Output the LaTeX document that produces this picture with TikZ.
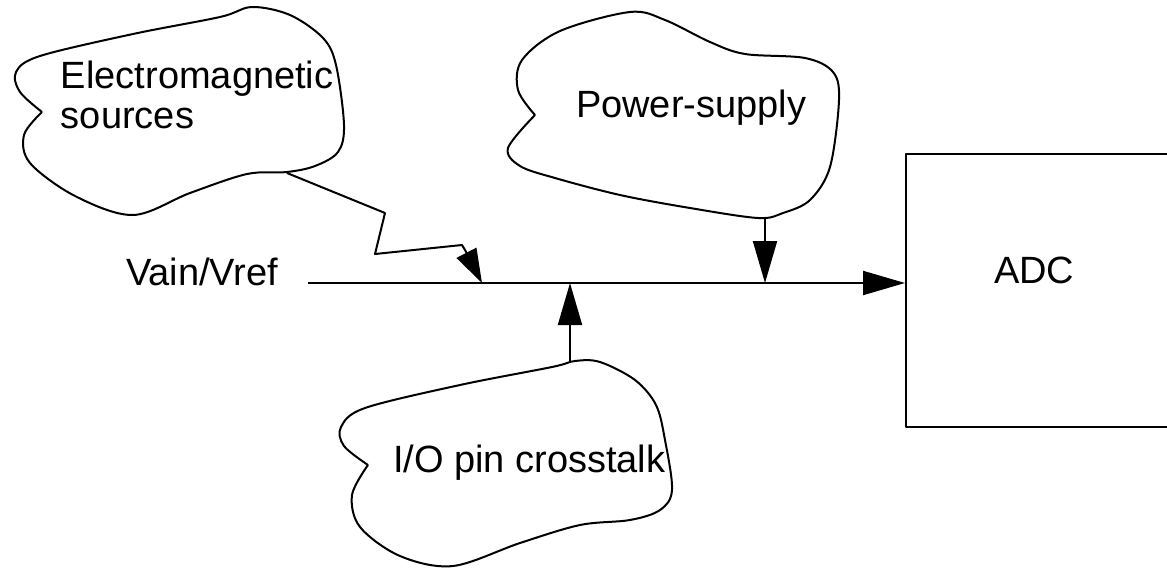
\documentclass[tikz,border=0pt]{standalone}
\usepackage{fontspec}
\setmainfont{Liberation Sans}
\usetikzlibrary{arrows.meta}
\begin{document}
\begin{tikzpicture}[x=0.5pt,y=-0.5pt,
  line width=1pt, line join=round,
  cloud/.style={draw, line width=1pt},
  lbl/.style={anchor=base west, inner sep=0pt, font=\fontsize{19}{20}\selectfont},
  bigtip/.style={-{Triangle[length=21pt,width=12pt]}},
  smalltip/.style={-{Triangle[length=17pt,width=11pt]}}]
\useasboundingbox (0,0) rectangle (1167,568);
% clouds
\draw[cloud] plot[smooth, tension=0.55] coordinates {(42,112) (20,92) (16,72) (40,56) (133,34) (220,17) (252,7) (290,15) (323,38) (336,65) (344,125) (338,152) (315,166) (287,172) (247,174) (190,193) (133,215) (75,196) (30,163) (24,135) (42,112)};
\draw[cloud] plot[smooth, tension=0.55] coordinates {(535,115) (518,90) (522,60) (560,31) (630,12) (665,20) (710,42) (745,54) (805,58) (833,72) (839,100) (830,167) (810,200) (783,213) (758,218) (690,208) (620,195) (555,178) (520,166) (508,148) (535,115)};
\draw[cloud] plot[smooth, tension=0.55] coordinates {(368,465) (344,446) (341,427) (365,408) (460,385) (552,367) (575,361) (600,362) (635,380) (656,405) (665,440) (672,490) (660,510) (630,520) (580,525) (520,543) (453,566) (400,556) (360,527) (352,495) (368,465)};
% texts
\node[lbl] (em1) at (60,88) {Electromagnetic};
\node[lbl] (em2) at (60,128) {sources};
\node[lbl] (ps) at (575,117) {Power-supply};
\node[lbl] (io) at (392,472) {I/O pin crosstalk};
\node[lbl] (vin) at (125,285) {Vain/Vref};
% ADC box
\begin{scope}
\clip (0,0) rectangle (1167,568);
\node[draw, line width=1pt, anchor=north west, minimum width=140pt, minimum height=136.5pt, inner sep=0pt] (adc) at (905,153) {};
\end{scope}
\node[lbl] (adct) at (993,283) {ADC};
% coordinates
\coordinate (start) at (308,283);
\coordinate (emout) at (287,173);
\coordinate (z1) at (385,213);
\coordinate (z2) at (375,254);
\coordinate (z3) at (462,245);
\coordinate (z4) at (465,250);
\coordinate (emin) at (482,283);
\coordinate (psout) at (765,218);
\coordinate (psin) at (765,283);
\coordinate (ioout) at (570,362);
\coordinate (ioin) at (570,283);
% connectors
\draw[bigtip] (start) -- (adc.west |- start);
\draw[smalltip] (emout) -- (z1) -- (z2) -- (z3) -- (z4) -- (emin);
\draw[bigtip] (psout) -- (psin);
\draw[bigtip] (ioout) -- (ioin);
\end{tikzpicture}
\end{document}
